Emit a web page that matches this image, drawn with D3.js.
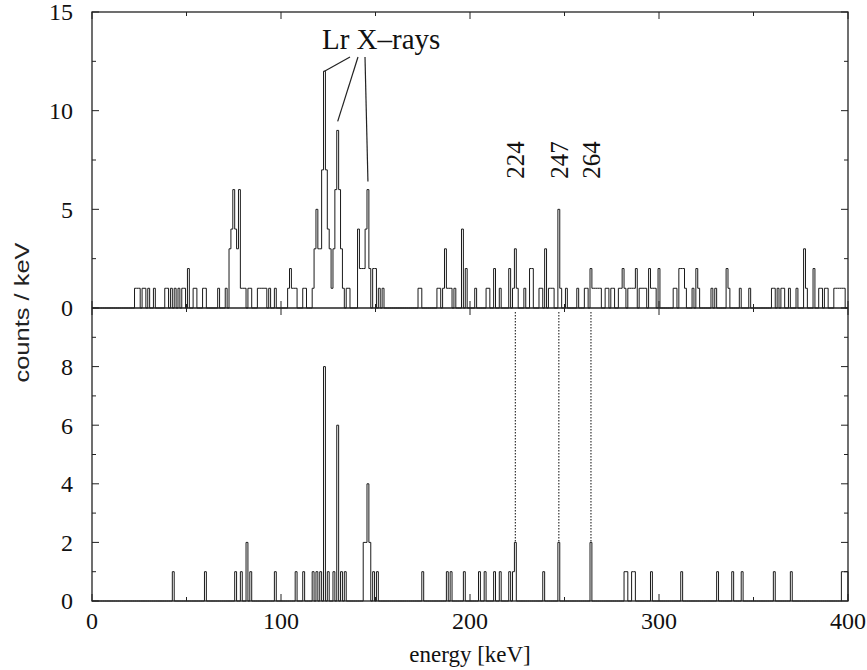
<!DOCTYPE html>
<html>
<head>
<meta charset="utf-8">
<script src="https://cdn.jsdelivr.net/npm/d3@7"></script>
<style>
  html, body { margin: 0; padding: 0; background: #fff; }
  svg { display: block; }
</style>
</head>
<body>
<svg id="chart" width="867" height="670"></svg>
<script>
// Upper spectrum: energy bin centre (keV) and counts per keV
const topEnergy = [23,24,25,27,28,30,33,39,40,42,44,46,48,49,51,54,55,59,60,67,71,
  73,74,75,76,77,78,79,80,81,83,84,88,89,90,91,92,94,97,
  104,105,106,107,108,112,113,117,118,119,120,121,122,123,124,125,126,127,128,129,130,131,132,133,
  135,136,141,142,143,144,145,146,147,149,150,152,154,
  173,174,183,184,186,187,188,189,190,192,196,198,203,209,210,213,216,221,223,224,225,229,232,233,
  237,238,240,242,243,244,247,248,251,257,261,262,264,265,266,267,268,269,272,273,275,276,
  279,280,281,282,284,285,286,287,288,290,291,292,293,295,296,297,298,300,
  308,309,311,312,313,314,318,320,321,328,330,336,337,343,348,360,361,363,365,366,369,373,
  377,378,382,385,386,388,389,393,394,395,396,397,398];
const topCounts = [1,1,1,1,1,1,1,1,1,1,1,1,1,1,2,1,1,1,1,1,1,
  3,4,6,4,3,6,1,1,1,1,1,1,1,1,1,1,1,1,
  1,2,1,1,1,1,1,1,3,5,3,3,7,12,7,4,3,1,3,6,9,6,3,1,
  1,1,4,2,2,2,4,6,2,2,2,1,1,
  1,1,1,1,1,3,1,1,1,1,4,2,1,1,1,2,1,2,1,3,1,1,2,2,
  1,1,3,1,1,1,5,1,1,1,1,1,2,1,1,1,1,1,1,1,1,1,
  1,1,2,1,1,1,1,1,2,1,1,1,1,2,1,1,1,2,
  1,1,2,2,2,1,1,2,1,1,1,2,1,1,1,1,1,1,1,1,1,1,
  3,1,2,1,1,1,1,1,1,1,1,1,1];

// Lower spectrum (coincidence-gated)
const botEnergy = [43,60,76,79,82,84,97,108,112,117,119,121,123,125,128,130,132,134,
  144,145,146,147,149,151,175,188,190,197,205,208,213,216,221,223,224,239,247,264,
  282,283,286,287,296,312,331,339,344,361,370,397,398,399];
const botCounts = [1,1,1,1,2,1,1,1,1,1,1,1,8,1,1,6,1,1,
  2,2,4,2,1,1,1,1,1,1,1,1,1,1,1,1,2,1,2,2,
  1,1,1,1,1,1,1,1,1,1,1,1,1,1];

// Axis ticks
const xTicks = [0, 100, 200, 300, 400];
const xMinorTicks = [50, 150, 250, 350];
const topYTicks = [0, 5, 10, 15];
const topYMinor = [2.5, 7.5, 12.5];
const botYTicks = [0, 2, 4, 6, 8];
const botYMinor = [1, 3, 5, 7, 9];

// Gamma lines marked in both spectra
const gammaLines = [224, 247, 264];
// Lr X-ray peaks pointed to from the label
const xrayPeaks = [123, 130, 146];

const svg = d3.select("#chart");
const pLeft = 92, pRight = 848, pTop = 12, pMid = 308, pBottom = 601;

const x = d3.scaleLinear().domain([0, 400]).range([pLeft, pRight]);
const yTop = d3.scaleLinear().domain([0, 15]).range([pMid, pTop]);
const yBot = d3.scaleLinear().domain([0, 10]).range([pBottom, pMid]);

const serif = "'Liberation Serif', 'Times New Roman', serif";

// Expand the sparse lists into 1 keV bins (bin e spans e-0.5 .. e+0.5)
function histogram(energies, counts) {
  const m = new Map(energies.map((e, i) => [e, counts[i]]));
  const pts = [{ e: 0, c: 0 }];
  for (let e = 1; e <= 399; e++) pts.push({ e: e - 0.5, c: m.get(e) || 0 });
  pts.push({ e: 400, c: 0 });
  return pts;
}

function stepPath(data, y) {
  return d3.line()
    .x(d => x(d.e))
    .y(d => y(d.c))
    .curve(d3.curveStepAfter)(data);
}

const g = svg.append("g");

// Spectra
g.append("path")
  .attr("d", stepPath(histogram(topEnergy, topCounts), yTop))
  .attr("fill", "none").attr("stroke", "#1a1a1a").attr("stroke-width", 1);
g.append("path")
  .attr("d", stepPath(histogram(botEnergy, botCounts), yBot))
  .attr("fill", "none").attr("stroke", "#1a1a1a").attr("stroke-width", 1);

// Dotted connectors between the two spectra
const botMap = new Map(botEnergy.map((e, i) => [e, botCounts[i]]));
g.selectAll("line.gamma").data(gammaLines).join("line")
  .attr("class", "gamma")
  .attr("x1", d => x(d)).attr("x2", d => x(d))
  .attr("y1", yTop(0) + 4).attr("y2", d => yBot(botMap.get(d) || 0))
  .attr("stroke", "#333").attr("stroke-width", 1.2)
  .attr("stroke-dasharray", "1.5,1.5");

// Frame and middle axis
g.append("rect")
  .attr("x", pLeft).attr("y", pTop).attr("width", pRight - pLeft).attr("height", pBottom - pTop)
  .attr("fill", "none").attr("stroke", "#222").attr("stroke-width", 1.3);
g.append("line")
  .attr("x1", pLeft).attr("x2", pRight).attr("y1", pMid).attr("y2", pMid)
  .attr("stroke", "#222").attr("stroke-width", 1.3);

// Tick marks
const tickG = g.append("g").attr("stroke", "#222").attr("stroke-width", 1);
function xTickMarks(vals, len) {
  vals.forEach(v => {
    tickG.append("line").attr("x1", x(v)).attr("x2", x(v)).attr("y1", pBottom).attr("y2", pBottom - len);
    tickG.append("line").attr("x1", x(v)).attr("x2", x(v)).attr("y1", pTop).attr("y2", pTop + len);
    tickG.append("line").attr("x1", x(v)).attr("x2", x(v)).attr("y1", pMid - len).attr("y2", pMid + len);
  });
}
xTickMarks(xTicks, 7);
xTickMarks(xMinorTicks, 4);
function yTickMarks(vals, y, len) {
  vals.forEach(v => {
    tickG.append("line").attr("x1", pLeft).attr("x2", pLeft + len).attr("y1", y(v)).attr("y2", y(v));
    tickG.append("line").attr("x1", pRight).attr("x2", pRight - len).attr("y1", y(v)).attr("y2", y(v));
  });
}
yTickMarks(topYTicks, yTop, 7);
yTickMarks(topYMinor, yTop, 4);
yTickMarks(botYTicks, yBot, 7);
yTickMarks(botYMinor, yBot, 4);

// Tick labels
const labG = svg.append("g").attr("fill", "#111")
  .style("font-family", serif).style("font-size", "24px");
labG.selectAll("text.yt").data(topYTicks.filter(v => v > 0)).join("text")
  .attr("x", pLeft - 19).attr("y", d => yTop(d)).attr("dy", "0.35em")
  .attr("text-anchor", "end").text(d => d);
labG.append("text").attr("x", pLeft - 19).attr("y", pMid).attr("dy", "0.35em")
  .attr("text-anchor", "end").text(0);
labG.selectAll("text.yb").data(botYTicks).join("text")
  .attr("x", pLeft - 19).attr("y", d => yBot(d)).attr("dy", "0.35em")
  .attr("text-anchor", "end").text(d => d);
labG.selectAll("text.xt").data(xTicks).join("text")
  .attr("x", d => x(d)).attr("y", pBottom + 28)
  .attr("text-anchor", "middle").text(d => d);

// Axis titles
svg.append("text")
  .attr("x", (pLeft + pRight) / 2).attr("y", 662)
  .attr("text-anchor", "middle")
  .style("font-family", serif).style("font-size", "23px")
  .attr("fill", "#111").text("energy [keV]");
svg.append("text")
  .attr("transform", `translate(29,${(pTop + pBottom) / 2 + 6}) rotate(-90)`)
  .attr("text-anchor", "middle")
  .attr("textLength", 140).attr("lengthAdjust", "spacingAndGlyphs")
  .style("font-family", "'Liberation Sans Narrow', 'Liberation Sans', sans-serif")
  .style("font-size", "21px").attr("fill", "#222").text("counts / keV");

// Gamma energy labels, all set at the same height
svg.selectAll("text.gl").data(gammaLines).join("text")
  .attr("transform", d => `translate(${x(d) + 9},${yTop(7.5)}) rotate(-90)`)
  .attr("text-anchor", "middle")
  .style("font-family", serif).style("font-size", "25px").attr("fill", "#111")
  .text(d => d);

// Lr X-ray label with leader lines
const topMap = new Map(topEnergy.map((e, i) => [e, topCounts[i]]));
const lx = 322, ly = 49;
svg.append("text").attr("x", lx).attr("y", ly)
  .style("font-family", serif).style("font-size", "29px").attr("fill", "#111")
  .text("Lr X\u2013rays");
const starts = [[350, 57], [358, 57], [365, 57]];
const gaps = [0, 9, 8];
svg.selectAll("line.lead").data(xrayPeaks).join("line")
  .attr("x1", (d, i) => starts[i][0]).attr("y1", (d, i) => starts[i][1])
  .attr("x2", d => x(d)).attr("y2", (d, i) => yTop(topMap.get(d)) - gaps[i])
  .attr("stroke", "#222").attr("stroke-width", 1.2);
</script>
</body>
</html>
